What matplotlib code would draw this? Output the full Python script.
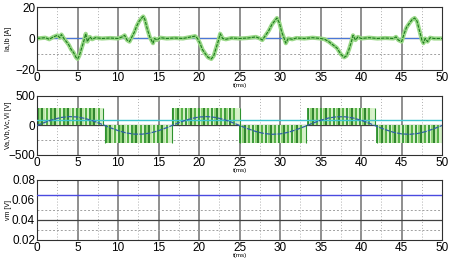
import matplotlib
matplotlib.use("Agg")
import matplotlib.pyplot as plt

# ---------------- data ----------------
# phase current (ms, A)
cur_t = [0, 1, 1.5, 2, 2.5, 2.8, 3, 3.3, 3.6, 3.9, 4.2, 4.5, 4.8, 5.0, 5.2, 5.5, 5.8, 6.0, 6.2, 6.5, 6.8, 7.2, 8, 9, 10,
         10.5, 10.8, 11.1, 11.4, 11.7, 12.0, 12.3, 12.6, 12.9, 13.1, 13.3, 13.6, 13.9, 14.1, 14.3, 14.5, 14.8, 15.2, 16, 17, 18,
         18.5, 19, 19.5, 19.8, 20.1, 20.4, 20.8, 21.1, 21.5, 21.8, 22.1, 22.4, 22.6, 22.9, 23.3, 24, 25, 26,
         27, 27.5, 27.8, 28.2, 28.6, 29, 29.3, 29.6, 29.9, 30.2, 30.5, 30.7, 31, 31.5, 32, 33, 34,
         35, 35.5, 36, 36.5, 37, 37.5, 37.9, 38.2, 38.5, 38.8, 39.0, 39.3, 39.6, 40, 41, 42, 43, 44,
         44.3, 44.6, 45, 45.3, 45.6, 46, 46.3, 46.6, 46.9, 47.2, 47.5, 47.7, 47.9, 48.2, 48.5, 49, 50]
cur_i = [0, 0.5, -0.5, 1, 2, 0.5, 2.5, 0, -2, -4, -7, -9, -12, -13, -11, -6, -1, 3, -2, 1, -0.5, 0.5, 0, 0.3, 0,
         1, 2, -1, -2, 1, 4, 8, 11, 13, 14, 12, 6, 1, -1, -3, 0, -1, 0.5, 0, 0.3, 0,
         0.5, 1, 1.5, 0, -3, -7, -10, -12, -13, -11, -6, -1, 3, 0, -0.5, 0.3, 0, 0.3,
         1, 0, -1, 2, 5, 9, 11, 13, 10, 4, 0, -3, 0, -0.5, 0.3, 0, 0.5,
         0, -0.5, -2, -4, -6, -10, -12, -11, -7, -2, 2, -1, 1, 0, 0.5, 0, 0.3, 0,
         1, -1, -2, 3, 7, 10, 12, 13, 11, 5, -1, -3, 0, -2, 0.5, 0, 0]
ref_t = [0, 50]
ref_i = [0, 0]

# PWM voltage half-cycle blocks
blk_start = [0, 8.4, 16.7, 25.0, 33.4, 41.9]
blk_end = [8.1, 16.6, 25.0, 33.2, 41.7, 50.0]
blk_level = [300, -300, 300, -300, 300, -300]
pulse_off = [0.1, 0.4, 0.65, 0.9, 1.2, 1.45, 1.7, 2.0, 2.25, 2.5, 2.8, 3.05, 3.3, 3.6, 3.85, 4.1,
             4.4, 4.65, 4.9, 5.2, 5.45, 5.7, 6.0, 6.25, 6.5, 6.8, 7.05, 7.3, 7.6, 7.85]

# fundamental voltage (ms, V)
fund_t = list(range(0, 51))
fund_v = [0, 55, 103, 136, 150, 143, 116, 72, 19, -37, -88, -127, -147, -147, -127, -88, -37,
          19, 72, 116, 143, 150, 136, 103, 55, 0, -55, -103, -136, -150, -143, -116, -72, -19,
          37, 88, 127, 147, 147, 127, 88, 37, -19, -72, -116, -143, -150, -136, -103, -55, 0]
vl_level = 100

# vm
vm_level = 0.065

xticks = [0, 5, 10, 15, 20, 25, 30, 35, 40, 45, 50]

# ---------------- figure ----------------
plt.rcParams['font.family'] = ['Liberation Sans', 'DejaVu Sans']
fig = plt.figure(figsize=(4.53, 2.6), dpi=100)
L, W = 0.082, 0.894
ax1 = fig.add_axes([L, 0.731, W, 0.242])
ax2 = fig.add_axes([L, 0.404, W, 0.227])
ax3 = fig.add_axes([L, 0.077, W, 0.231])

def grid(ax, hsolid, hdot):
    for x in [5, 10, 15, 20, 25, 30, 35, 40, 45]:
        ax.axvline(x, color='#707070', lw=1.1, zorder=0.5)
    for x in [2.5, 7.5, 12.5, 17.5, 22.5, 27.5, 32.5, 37.5, 42.5, 47.5]:
        ax.axvline(x, color='#b0b0b0', lw=0.7, ls=(0, (1, 2)), zorder=0.5)
    for y in hsolid:
        ax.axhline(y, color='#404040', lw=0.9, zorder=0.6)
    for y in hdot:
        ax.axhline(y, color='#a0a0a0', lw=0.7, ls=(0, (2, 2)), zorder=0.5)

for ax in (ax1, ax2, ax3):
    ax.set_xlim(0, 50)
    ax.set_xticks(xticks)
    ax.tick_params(labelsize=8.5, length=0, pad=1.5)
    for s in ax.spines.values():
        s.set_linewidth(0.8)
        s.set_color('#303030')

# panel 1
grid(ax1, [0], [-10])
ax1.plot(ref_t, ref_i, color='#4a78d8', lw=0.8, zorder=1.5)
ax1.plot(cur_t, cur_i, color='#9ad888', lw=3.0, zorder=2, solid_joinstyle='round')
ax1.plot(cur_t, cur_i, color='#1d7d1d', lw=0.8, zorder=3, ls=(0, (3, 1)))
ax1.set_ylim(-20, 20)
ax1.set_yticks([-20, 0, 20])

# panel 2
grid(ax2, [0], [-250])
greens = ['#2e922e', '#88d070', '#1f7a1f', '#b8e4a4', '#4aaa3a', '#d4f0c6']
for s, e, lv in zip(blk_start, blk_end, blk_level):
    ax2.fill_between([s, e], 0, lv, color='#d8f2cc', lw=0, zorder=1)
    xs = [s + o for o in pulse_off if s + o <= e]
    for k, x in enumerate(xs):
        ax2.vlines(x, 0, lv, color=greens[k % len(greens)], lw=1.3, zorder=1.5)
    ax2.vlines([s, e], 0, lv, color='#2e922e', lw=0.8, zorder=1.5)
ax2.axhline(vl_level, color='#3cc4d0', lw=1.0, zorder=3)
ax2.plot(fund_t, fund_v, color='#3060a8', lw=0.9, ls=(0, (4, 1)), zorder=3)
ax2.set_ylim(-500, 500)
ax2.set_yticks([-500, 0, 500])

# panel 3
grid(ax3, [0.04], [0.05, 0.03])
ax3.axhline(vm_level, color='#4a4ae0', lw=1.0, zorder=3)
ax3.set_ylim(0.02, 0.08)
ax3.set_yticks([0.02, 0.04, 0.06, 0.08])
ax3.set_yticklabels(['0.02', '0.04', '0.06', '0.08'])

# labels
fig.text(0.018, 0.852, 'Ia,Ib [A]', rotation=90, fontsize=5, ha='center', va='center')
fig.text(0.018, 0.517, 'Va,Vb,Vc,Vl [V]', rotation=90, fontsize=5, ha='center', va='center')
fig.text(0.018, 0.192, 'vm [V]', rotation=90, fontsize=5, ha='center', va='center')
for yy in (0.66, 0.335, 0.008):
    fig.text(0.53, yy, 't(ms)', fontsize=4.5, ha='center', va='bottom')

fig.savefig('out.png', dpi=100)
